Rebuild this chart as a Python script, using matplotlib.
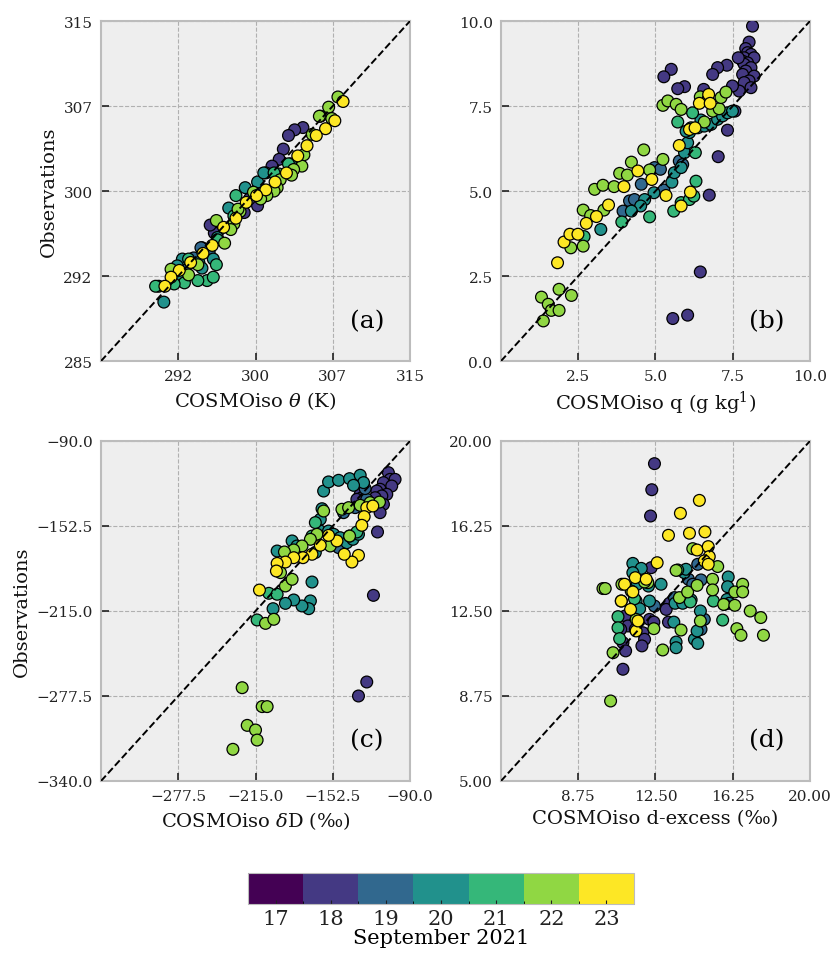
import matplotlib
matplotlib.use("Agg")
import matplotlib.pyplot as plt
import matplotlib as mpl
import numpy as np
from matplotlib.ticker import FuncFormatter

plt.style.use("bmh")
plt.rcParams["font.family"] = "DejaVu Serif"
plt.rcParams["mathtext.fontset"] = "dejavuserif"

days = [17, 18, 19, 20, 21, 22, 23]

# (a) potential temperature (K): model, observation, day
a_x = [304.6, 303.8, 303.2, 302.7, 302.3, 301.6, 301.0, 300.3, 300.2, 299.4, 298.9, 296.5, 296.0, 295.6, 294.8,
       295.5, 294.7, 294.0, 293.4, 298.2,
       291.1, 300.2, 299.0, 297.4, 296.3, 295.9, 294.5, 292.9, 292.4, 292.7, 294.8, 303.4, 300.8,
       306.3, 303.2, 302.3, 301.8, 298.1, 296.3, 296.2, 295.3, 295.9, 294.4, 293.1, 292.1, 290.6, 290.3, 293.5, 297.9,
       308.0, 307.1, 306.2, 307.4, 305.5, 304.7, 304.5, 303.7, 303.5, 302.4, 302.1, 301.8, 301.1, 300.5, 299.8, 298.5,
       298.3, 297.9, 297.6, 297.0, 296.2, 294.4, 293.5, 291.8,
       308.5, 307.7, 306.8, 305.9, 305.0, 304.1, 303.0, 301.9, 301.0, 300.1, 299.1, 298.1, 296.9, 295.8, 294.9, 293.7,
       292.6, 291.8, 291.2]
a_y = [305.6, 305.4, 304.9, 303.7, 302.8, 302.2, 301.6, 300.4, 298.7, 299.3, 298.1, 296.6, 296.3, 297.0, 295.0,
       294.6, 295.0, 294.1, 293.5, 298.1,
       290.2, 300.8, 300.3, 298.5, 295.9, 294.0, 293.7, 294.0, 293.4, 292.5, 293.2, 302.4, 301.6,
       306.6, 302.4, 301.5, 301.6, 299.6, 295.7, 293.5, 292.1, 292.4, 292.1, 291.9, 291.8, 291.6, 291.6, 294.0, 297.8,
       308.3, 307.4, 306.6, 306.4, 305.0, 303.2, 302.2, 301.9, 301.4, 301.0, 300.3, 300.0, 299.6, 299.3, 299.9, 298.2,
       298.4, 297.1, 296.6, 295.4, 297.4, 293.5, 292.6, 293.1,
       307.9, 306.2, 305.5, 304.9, 304.0, 303.1, 301.6, 300.8, 300.1, 299.6, 299.0, 297.6, 296.8, 295.2, 294.5, 293.7,
       293.0, 292.4, 291.6]
a_day = [18] * 15 + [19] * 5 + [20] * 13 + [21] * 16 + [22] * 24 + [23] * 19

# (b) specific humidity (g/kg)
b_x = [8.14, 8.03, 7.92, 7.98, 8.09, 7.87, 8.19, 7.82, 7.98, 7.87, 7.68, 8.09, 7.92, 7.82, 8.19, 8.03, 7.87, 8.09,
       7.71, 7.49, 7.31, 7.01, 6.85, 6.56, 5.94, 5.72, 5.51, 5.27, 7.57, 7.33, 7.03, 6.74, 6.45, 5.56, 6.04,
       4.54, 4.16, 4.32, 3.95, 4.97, 5.16, 5.77, 5.88, 5.27,
       4.95, 4.65, 4.52, 4.22, 5.53, 5.61, 5.83, 5.94, 6.04, 6.10, 5.99, 6.15, 6.37, 6.58, 6.80, 7.01, 7.17, 7.33,
       7.49, 6.47, 3.23,
       4.81, 3.91, 2.69, 5.59, 5.83, 6.10, 6.24, 6.31, 6.29, 5.72, 6.20,
       1.31, 1.53, 1.63, 1.37, 1.88, 1.88, 2.28, 2.26, 2.66, 2.66, 2.90, 3.03, 3.30, 3.66, 3.33, 3.84, 4.09, 4.22,
       4.62, 4.81, 5.24, 5.24, 5.40, 5.67, 5.83, 6.45, 6.69, 6.85, 7.06, 7.12, 7.28, 6.58, 5.77,
       1.83, 2.04, 2.23, 2.49, 2.76, 3.09, 3.48, 3.98, 4.43, 4.88, 5.34, 5.83, 6.13, 6.10, 6.28, 6.42, 6.72, 6.77, 6.67]
b_y = [9.85, 9.38, 9.19, 9.07, 9.02, 8.92, 8.92, 8.82, 8.77, 8.73, 8.92, 8.63, 8.53, 8.43, 8.38, 8.24, 8.19, 8.04,
       7.94, 8.09, 8.70, 8.63, 8.43, 7.99, 8.07, 8.01, 8.58, 8.36, 7.35, 6.79, 6.01, 4.88, 2.62, 1.25, 1.35,
       5.20, 4.71, 4.75, 4.41, 5.69, 5.64, 5.88, 5.78, 5.03,
       4.95, 4.75, 4.56, 4.41, 5.26, 5.54, 5.69, 6.13, 6.42, 6.72, 6.76, 6.86, 6.86, 6.91, 6.96, 7.11, 7.21, 7.30,
       7.35, 7.09, 3.87,
       4.24, 4.09, 3.66, 4.41, 4.66, 4.75, 4.85, 5.29, 6.13, 7.03, 7.30,
       1.88, 1.67, 1.49, 1.18, 2.11, 1.49, 1.93, 3.33, 3.38, 4.44, 4.28, 5.05, 5.17, 5.13, 4.44, 5.52, 5.47, 5.85,
       6.21, 5.62, 5.93, 7.52, 7.65, 7.55, 7.40, 7.77, 7.68, 7.35, 7.42, 7.75, 7.91, 7.03, 6.34,
       2.89, 3.50, 3.73, 3.73, 4.05, 4.25, 4.59, 5.13, 5.59, 5.34, 4.87, 4.56, 4.97, 6.81, 6.86, 7.58, 7.84, 7.58, 6.99]
b_day = [18] * 35 + [19] * 9 + [20] * 21 + [21] * 11 + [22] * 32 + [23] * 19

# (c) dD (permil)
c_x = [-107.5, -106.1, -102.1, -111.5, -104.8, -114.2, -116.9, -108.8, -112.8, -118.2, -130.3, -129.0, -133.0,
       -111.5, -114.2, -116.3, -119.6, -125.0, -131.7,
       -143.8, -134.4, -147.8, -125.0, -126.3,
       -159.9, -155.9, -147.8, -138.9, -130.3, -127.6, -135.7, -161.2, -162.6, -162.6, -155.9, -151.8, -146.5,
       -141.1, -136.2, -131.7, -197.5, -185.4, -181.4, -169.3, -170.6, -172.0, -177.4, -184.1, -190.8, -200.8,
       -166.6,
       -204.2, -197.5, -213.7, -166.6, -169.3, -138.9, -133.0,
       -145.1, -139.7, -130.3, -122.3, -114.7, -159.9, -165.3, -170.6, -177.4, -184.1, -191.6, -194.8, -190.8,
       -185.4, -206.9, -200.2, -225.8, -209.6, -205.6, -221.7, -215.0, -213.7, -233.3, -138.9, -154.5,
       -125.0, -120.1, -127.1, -129.0, -131.7, -137.0, -143.2, -149.1, -155.9, -162.6, -169.3, -176.6, -184.1,
       -190.8, -197.5, -198.1, -211.8]
c_y = [-113.3, -118.2, -118.2, -120.6, -123.1, -125.5, -126.8, -129.2, -130.4, -131.7, -129.2, -131.7, -132.9,
       -136.6, -142.7, -156.9, -203.5, -267.2, -277.5,
       -142.7, -139.0, -168.4, -132.9, -125.0,
       -126.8, -120.1, -118.9, -117.7, -115.2, -120.6, -122.6, -139.8, -147.6, -156.2, -156.2, -158.6, -161.1,
       -164.8, -162.3, -158.6, -170.9, -163.5, -167.2, -193.7, -207.6, -213.3, -211.3, -206.9, -209.4, -213.3,
       -172.0,
       -202.0, -202.7, -221.6, -150.0, -159.9, -159.9, -156.9,
       -140.2, -139.0, -137.3, -135.3, -134.9, -141.5, -158.6, -162.3, -167.2, -170.1, -171.6, -186.8, -196.6,
       -191.7, -224.1, -221.1, -271.4, -285.3, -285.3, -299.1, -302.5, -309.9, -316.7, -159.9, -167.2,
       -139.0, -137.8, -145.6, -152.0, -174.1, -179.0, -173.3, -163.5, -159.4, -166.7, -173.3, -175.8, -175.8,
       -179.0, -180.0, -185.6, -199.6]
c_day = [18] * 19 + [19] * 5 + [20] * 27 + [21] * 7 + [22] * 25 + [23] * 17

# (d) d-excess (permil)
d_x = [12.45, 12.32, 12.26, 12.29, 10.92, 10.84, 11.03, 11.16, 10.81, 10.92, 11.05, 11.52, 11.89, 11.97, 11.84,
       12.21, 12.42, 13.18, 13.02, 13.13,
       14.55, 14.71, 14.87, 14.71, 13.42, 14.10, 14.31, 12.45,
       11.40, 11.81, 11.40, 11.61, 12.16, 12.21, 11.56, 11.73, 12.77, 13.45, 13.82, 13.90, 13.98, 14.23, 14.68,
       13.50, 13.50, 14.39, 14.55, 14.52, 13.39, 16.03, 16.00, 15.97, 16.08,
       10.68, 10.68, 10.76, 11.48, 14.19, 13.58, 15.31, 15.76, 15.84,
       9.95, 10.06, 10.87, 11.32, 12.13, 11.56, 12.42, 12.85, 13.74, 13.50, 13.66, 14.06, 14.31, 14.52, 14.68,
       15.03, 15.27, 15.27, 15.52, 15.81, 16.35, 16.73, 16.73, 16.35, 17.10, 16.45, 16.65, 17.61, 17.74, 10.44,
       10.32, 11.97, 11.56,
       14.63, 13.71, 13.13, 14.15, 14.90, 14.52, 15.06, 15.11, 14.87, 15.06, 12.58, 11.00, 10.84, 11.40, 11.52,
       12.05, 11.29, 11.65, 11.35]
d_y = [19.00, 17.85, 16.69, 14.41, 9.93, 12.94, 12.28, 11.84, 11.69, 11.10, 10.74, 11.69, 11.54, 11.25, 10.96,
       12.13, 12.01, 12.84, 12.57, 12.01,
       14.56, 13.87, 12.13, 11.69, 13.09, 13.90, 13.68, 12.72,
       14.60, 14.38, 14.19, 13.68, 13.60, 12.94, 12.94, 12.60, 13.68, 12.84, 12.84, 14.19, 14.34, 12.99, 12.50,
       11.13, 10.88, 11.25, 11.07, 11.62, 12.01, 14.00, 13.57, 13.01, 12.84,
       12.25, 11.76, 11.28, 13.04, 12.90, 14.31, 12.94, 12.10, 12.79,
       13.49, 13.49, 13.68, 13.38, 13.75, 12.13, 11.72, 10.78, 11.66, 14.29, 13.09, 13.34, 15.25, 13.63, 12.06,
       14.60, 13.90, 13.43, 14.46, 12.79, 13.34, 13.68, 13.34, 12.75, 12.50, 11.72, 11.43, 12.21, 11.43, 10.66,
       8.53, 13.78, 11.62,
       17.38, 16.81, 15.84, 15.93, 15.99, 15.19, 15.34, 14.90, 14.71, 14.56, 14.63, 13.68, 12.94, 13.34, 13.97,
       13.90, 12.57, 12.06, 11.76]
d_day = [18] * 20 + [19] * 8 + [20] * 25 + [21] * 9 + [22] * 32 + [23] * 19

panels = [
    ("a", a_x, a_y, a_day, (285, 315), "%d", r"COSMOiso $\theta$ (K)"),
    ("b", b_x, b_y, b_day, (0, 10), "%.1f", r"COSMOiso q (g kg$^{1}$)"),
    ("c", c_x, c_y, c_day, (-340, -90), "%.1f", r"COSMOiso $\delta$D (‰)"),
    ("d", d_x, d_y, d_day, (5, 20), "%.2f", "COSMOiso d-excess (‰)"),
]
boxes = [
    [0.1217, 0.6205, 0.3723, 0.3564],
    [0.6036, 0.6205, 0.3723, 0.3564],
    [0.1217, 0.1803, 0.3723, 0.3564],
    [0.6036, 0.1803, 0.3723, 0.3564],
]

cmap = plt.get_cmap("viridis", len(days))
norm = mpl.colors.BoundaryNorm(np.arange(16.5, 24.5, 1), cmap.N)

fig = plt.figure(figsize=(8.3, 9.54), dpi=100)

for i, (tag, xs, ys, dd, lim, fmt, xlabel) in enumerate(panels):
    ax = fig.add_axes(boxes[i])
    ax.set_facecolor("#eeeeee")
    order = np.argsort(dd, kind="stable")
    xs = np.array(xs)[order]
    ys = np.array(ys)[order]
    dd = np.array(dd)[order]
    ax.scatter(xs, ys, c=dd, cmap=cmap, norm=norm, s=72, edgecolors="k", linewidths=0.9, zorder=3)
    ax.plot(lim, lim, "k--", lw=1.4, zorder=4)
    ax.set_xlim(lim)
    ax.set_ylim(lim)
    ticks = np.linspace(lim[0], lim[1], 5)
    ax.set_xticks(ticks[1:])
    ax.set_yticks(ticks)
    f = FuncFormatter(lambda v, p, fmt=fmt: (fmt % v).replace("-", "\u2212"))
    ax.xaxis.set_major_formatter(f)
    ax.yaxis.set_major_formatter(f)
    ax.tick_params(labelsize=11, colors="#222222", direction="in", length=6, width=1.2,
                   top=False, right=False, pad=6)
    ax.grid(True, color="#b0b0b0", linestyle="--", linewidth=0.8)
    for s in ax.spines.values():
        s.set_color("#bcbcbc")
        s.set_linewidth(1.5)
    ax.set_xlabel(xlabel, fontsize=14, color="#111111")
    if i % 2 == 0:
        ax.set_ylabel("Observations", fontsize=14, color="#111111")
    ax.text(0.86, 0.12, "(" + tag + ")", transform=ax.transAxes, fontsize=18,
            ha="center", va="center", zorder=5)

cax = fig.add_axes([0.2988, 0.0514, 0.4651, 0.0325])
cb = mpl.colorbar.ColorbarBase(cax, cmap=cmap, norm=norm, orientation="horizontal", ticks=days)
cax.grid(False)
cb.outline.set_edgecolor("#bcbcbc")
cb.ax.tick_params(labelsize=15, length=3, colors="#222222")
cb.set_label("September 2021", fontsize=15, labelpad=0)

fig.savefig("out.png", dpi=100)
